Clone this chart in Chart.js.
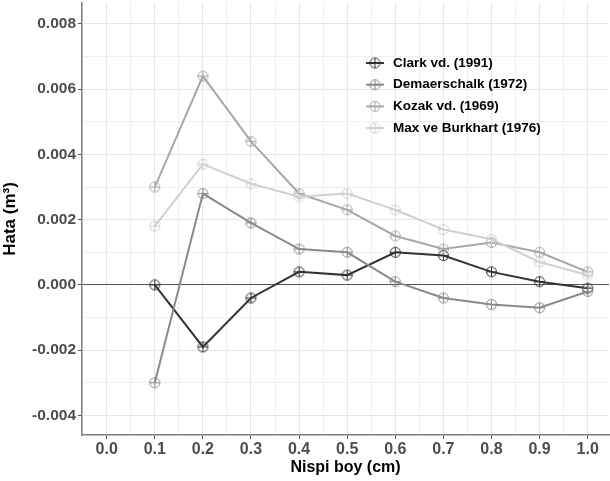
<!DOCTYPE html>
<html>
<head>
<meta charset="utf-8">
<script src="https://cdn.jsdelivr.net/npm/chart.js@4.4.0/dist/chart.umd.min.js"></script>
<style>
  html, body { margin: 0; padding: 0; background: #fff; }
  #wrap { width: 610px; height: 481px; }
</style>
</head>
<body>
<div id="wrap"><canvas id="myChart"></canvas></div>
<script>
// data
var xs = [0.1, 0.2, 0.3, 0.4, 0.5, 0.6, 0.7, 0.8, 0.9, 1.0];
var clark = [0.0000, -0.0019, -0.0004, 0.0004, 0.0003, 0.0010, 0.0009, 0.0004, 0.0001, -0.0001];
var demaerschalk = [-0.0030, 0.0028, 0.0019, 0.0011, 0.0010, 0.0001, -0.0004, -0.0006, -0.0007, -0.0002];
var kozak = [0.0030, 0.0064, 0.0044, 0.0028, 0.0023, 0.0015, 0.0011, 0.0013, 0.0010, 0.0004];
var maxBurkhart = [0.0018, 0.0037, 0.0031, 0.0027, 0.0028, 0.0023, 0.0017, 0.0014, 0.0007, 0.0003];
var seriesNames = ['Clark vd. (1991)', 'Demaerschalk (1972)', 'Kozak vd. (1969)', 'Max ve Burkhart (1976)'];
var seriesColors = ['#333333', '#8a8a8a', '#a8a8a8', '#d0d0d0'];

// circle with a plus, like ggplot shape 10
function makeMarker(color) {
    var c = document.createElement('canvas');
    c.width = 13; c.height = 13;
    var g = c.getContext('2d');
    g.strokeStyle = color;
    g.lineWidth = 1;
    g.beginPath();
    g.arc(6.5, 6.5, 5, 0, 2 * Math.PI);
    g.moveTo(1.5, 6.5); g.lineTo(11.5, 6.5);
    g.moveTo(6.5, 1.5); g.lineTo(6.5, 11.5);
    g.stroke();
    return c;
}
var markers = seriesColors.map(makeMarker);

function pts(arr) {
    return xs.map(function (x, i) { return { x: x, y: arr[i] }; });
}
var allSeries = [clark, demaerschalk, kozak, maxBurkhart];

var datasets = allSeries.map(function (s, i) {
    return {
        label: seriesNames[i],
        data: pts(s),
        borderColor: seriesColors[i],
        backgroundColor: seriesColors[i],
        borderWidth: 2,
        pointStyle: markers[i],
        pointRadius: 6,
        fill: false,
        tension: 0,
        order: 4 - i
    };
});

var isMajorX = function (v) { return Math.round(v * 100) % 10 === 0; };
var isMajorY = function (v) { return Math.round(v * 10000) % 20 === 0; };

// legend drawn inside the panel
var innerLegend = {
    id: 'innerLegend',
    afterDraw: function (chart) {
        var c = chart.ctx;
        c.save();
        c.font = 'bold 13.5px "Liberation Sans", Arial, sans-serif';
        c.textBaseline = 'middle';
        c.fillStyle = '#000';
        for (var i = 0; i < seriesNames.length; i++) {
            var y = 63 + i * 21.7;
            c.strokeStyle = seriesColors[i];
            c.lineWidth = 2;
            c.beginPath(); c.moveTo(366, y); c.lineTo(384, y); c.stroke();
            c.drawImage(markers[i], 375 - 6.5, y - 6.5);
            c.fillText(seriesNames[i], 393, y);
        }
        c.restore();
    }
};

var ctx = document.getElementById('myChart');
new Chart(ctx, {
    type: 'line',
    data: { datasets: datasets },
    plugins: [innerLegend],
    options: {
        responsive: true,
        maintainAspectRatio: false,
        animation: false,
        layout: { autoPadding: false, padding: { top: 3, right: 1, left: 0, bottom: 0 } },
        plugins: {
            legend: { display: false },
            tooltip: { enabled: false }
        },
        scales: {
            x: {
                type: 'linear',
                min: -0.0513,
                max: 1.0443,
                ticks: {
                    stepSize: 0.05,
                    includeBounds: false,
                    autoSkip: false,
                    maxRotation: 0,
                    padding: 1,
                    color: '#4d4d4d',
                    font: { family: '"Liberation Sans", Arial', size: 16, weight: 'bold' },
                    callback: function (v) { return isMajorX(v) ? v.toFixed(1) : ''; }
                },
                grid: {
                    color: function (c) { return isMajorX(c.tick.value) ? '#e6e6e6' : '#f0f0f0'; },
                    tickColor: function (c) { return isMajorX(c.tick.value) ? '#555555' : 'rgba(0,0,0,0)'; },
                    tickLength: 4,
                    lineWidth: 1
                },
                border: { color: '#7f7f7f', width: 1.5 },
                title: {
                    display: true,
                    text: 'Nispi boy (cm)',
                    color: '#000',
                    padding: { top: 0, bottom: 4 },
                    font: { family: '"Liberation Sans", Arial', size: 16, weight: 'bold' }
                },
                afterFit: function (scale) {
                    scale.height = 46;
                    scale.paddingLeft = 0;
                    scale.paddingRight = 0;
                }
            },
            y: {
                min: -0.0046,
                max: 0.00864,
                ticks: {
                    stepSize: 0.001,
                    includeBounds: false,
                    autoSkip: false,
                    padding: 2,
                    color: '#4d4d4d',
                    font: { family: '"Liberation Sans", Arial', size: 15.5, weight: 'bold' },
                    callback: function (v) { return isMajorY(v) ? v.toFixed(3) : ''; }
                },
                grid: {
                    color: function (c) {
                        if (Math.abs(c.tick.value) < 1e-9) return '#555555';
                        return isMajorY(c.tick.value) ? '#e6e6e6' : '#f0f0f0';
                    },
                    tickColor: function (c) { return isMajorY(c.tick.value) ? '#555555' : 'rgba(0,0,0,0)'; },
                    tickLength: 4,
                    lineWidth: 1
                },
                border: { color: '#7f7f7f', width: 1.5 },
                title: {
                    display: true,
                    text: 'Hata (m\u00B3)',
                    color: '#000',
                    padding: { top: 0, bottom: 2 },
                    font: { family: '"Liberation Sans", Arial', size: 17, weight: 'bold' }
                },
                afterFit: function (scale) {
                    scale.width = 82;
                    scale.paddingTop = 0;
                    scale.paddingBottom = 0;
                }
            }
        }
    }
});
</script>
</body>
</html>
